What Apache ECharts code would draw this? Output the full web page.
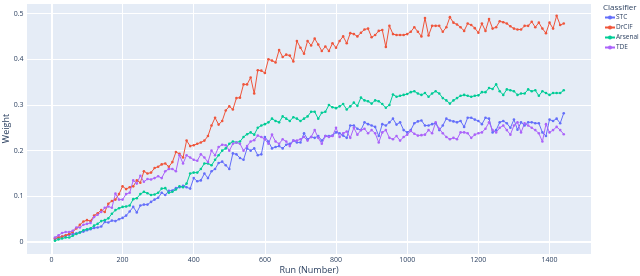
<!DOCTYPE html>
<html>
<head>
<meta charset="utf-8">
<script src="https://cdn.jsdelivr.net/npm/echarts@6/dist/echarts.min.js"></script>
<style>
html,body{margin:0;padding:0;background:#fff;}
#chart{width:640px;height:276px;}
</style>
</head>
<body>
<div id="chart"></div>
<script>
const runs = [
  10,20,30,40,50,60,70,80,90,100,
  110,120,130,140,150,160,170,180,190,200,
  210,220,230,240,250,260,270,280,290,300,
  310,320,330,340,350,360,370,380,390,400,
  410,420,430,440,450,460,470,480,490,500,
  510,520,530,540,550,560,570,580,590,600,
  610,620,630,640,650,660,670,680,690,700,
  710,720,730,740,750,760,770,780,790,800,
  810,820,830,840,850,860,870,880,890,900,
  910,920,930,940,950,960,970,980,990,1000,
  1010,1020,1030,1040,1050,1060,1070,1080,1090,1100,
  1110,1120,1130,1140,1150,1160,1170,1180,1190,1200,
  1210,1220,1230,1240,1250,1260,1270,1280,1290,1300,
  1310,1320,1330,1340,1350,1360,1370,1380,1390,1400,
  1410,1420,1430,1440
];
const stc = [
  0.007,0.010,0.012,0.014,0.016,0.018,0.019,0.021,0.023,0.026,
  0.028,0.031,0.032,0.034,0.044,0.043,0.047,0.046,0.050,0.053,
  0.058,0.067,0.077,0.065,0.080,0.082,0.082,0.088,0.093,0.097,
  0.108,0.103,0.112,0.113,0.118,0.120,0.123,0.120,0.117,0.140,
  0.133,0.135,0.150,0.140,0.155,0.160,0.173,0.176,0.168,0.160,
  0.194,0.192,0.184,0.180,0.205,0.200,0.205,0.190,0.192,0.230,
  0.220,0.205,0.208,0.210,0.205,0.213,0.215,0.222,0.218,0.218,
  0.238,0.225,0.230,0.228,0.232,0.222,0.232,0.232,0.233,0.240,
  0.238,0.233,0.228,0.255,0.255,0.248,0.245,0.262,0.258,0.255,
  0.252,0.232,0.258,0.255,0.262,0.270,0.257,0.262,0.245,0.240,
  0.245,0.260,0.264,0.266,0.255,0.255,0.258,0.260,0.245,0.255,
  0.270,0.266,0.264,0.262,0.265,0.252,0.272,0.272,0.268,0.265,
  0.258,0.272,0.270,0.240,0.245,0.262,0.265,0.260,0.250,0.268,
  0.246,0.262,0.255,0.262,0.262,0.260,0.260,0.240,0.232,0.268,
  0.265,0.270,0.260,0.282
];
const drcif = [
  0.008,0.010,0.012,0.015,0.018,0.022,0.030,0.038,0.045,0.048,
  0.046,0.058,0.063,0.070,0.066,0.084,0.090,0.093,0.105,0.122,
  0.116,0.120,0.122,0.135,0.130,0.155,0.150,0.152,0.162,0.165,
  0.170,0.172,0.165,0.175,0.197,0.193,0.185,0.222,0.210,0.212,
  0.215,0.218,0.222,0.232,0.255,0.272,0.257,0.265,0.288,0.297,
  0.290,0.315,0.316,0.345,0.345,0.360,0.325,0.376,0.375,0.370,
  0.400,0.397,0.393,0.420,0.405,0.410,0.408,0.395,0.440,0.425,
  0.412,0.440,0.430,0.445,0.432,0.418,0.428,0.418,0.435,0.425,
  0.440,0.450,0.435,0.457,0.455,0.450,0.458,0.465,0.467,0.448,
  0.453,0.462,0.464,0.427,0.473,0.455,0.453,0.453,0.453,0.455,
  0.460,0.470,0.460,0.450,0.490,0.452,0.473,0.473,0.473,0.460,
  0.470,0.492,0.480,0.476,0.470,0.462,0.478,0.475,0.468,0.458,
  0.478,0.462,0.488,0.467,0.470,0.483,0.481,0.478,0.472,0.467,
  0.465,0.465,0.473,0.473,0.482,0.470,0.480,0.467,0.457,0.480,
  0.467,0.495,0.475,0.478
];
const arsenal = [
  0.003,0.006,0.008,0.010,0.010,0.014,0.018,0.021,0.026,0.028,
  0.030,0.036,0.040,0.046,0.048,0.052,0.062,0.070,0.074,0.077,
  0.078,0.080,0.094,0.096,0.105,0.110,0.107,0.103,0.104,0.108,
  0.117,0.118,0.108,0.110,0.115,0.122,0.120,0.128,0.150,0.152,
  0.152,0.160,0.172,0.172,0.168,0.180,0.190,0.200,0.205,0.215,
  0.220,0.218,0.220,0.230,0.236,0.240,0.235,0.250,0.255,0.258,
  0.262,0.270,0.265,0.262,0.275,0.270,0.265,0.273,0.270,0.265,
  0.270,0.275,0.285,0.285,0.270,0.283,0.285,0.300,0.295,0.293,
  0.297,0.302,0.290,0.297,0.305,0.298,0.316,0.310,0.308,0.303,
  0.310,0.308,0.302,0.294,0.300,0.323,0.318,0.320,0.322,0.324,
  0.328,0.330,0.325,0.322,0.326,0.318,0.325,0.330,0.325,0.315,
  0.310,0.303,0.310,0.315,0.320,0.322,0.320,0.318,0.320,0.321,
  0.328,0.328,0.337,0.335,0.345,0.330,0.322,0.334,0.332,0.330,
  0.322,0.325,0.325,0.334,0.330,0.332,0.320,0.330,0.326,0.322,
  0.326,0.326,0.326,0.332
];
const tde = [
  0.010,0.015,0.020,0.022,0.022,0.025,0.032,0.032,0.038,0.040,
  0.042,0.055,0.060,0.066,0.075,0.078,0.075,0.106,0.093,0.093,
  0.105,0.108,0.135,0.128,0.145,0.132,0.138,0.137,0.140,0.144,
  0.140,0.155,0.160,0.160,0.155,0.190,0.172,0.190,0.185,0.180,
  0.178,0.192,0.185,0.175,0.200,0.190,0.208,0.213,0.212,0.200,
  0.215,0.218,0.215,0.200,0.210,0.220,0.223,0.233,0.230,0.225,
  0.215,0.235,0.220,0.215,0.225,0.220,0.210,0.222,0.222,0.225,
  0.230,0.222,0.230,0.245,0.228,0.215,0.232,0.230,0.232,0.250,
  0.230,0.238,0.242,0.228,0.250,0.235,0.245,0.248,0.238,0.245,
  0.238,0.218,0.240,0.245,0.228,0.225,0.232,0.222,0.230,0.235,
  0.243,0.237,0.233,0.234,0.235,0.245,0.238,0.262,0.248,0.238,
  0.230,0.225,0.228,0.225,0.240,0.240,0.238,0.228,0.235,0.238,
  0.240,0.248,0.262,0.245,0.240,0.250,0.255,0.245,0.235,0.255,
  0.262,0.240,0.260,0.255,0.250,0.245,0.238,0.220,0.258,0.240,
  0.245,0.252,0.245,0.236
];
const seriesNames = ['STC','DrCIF','Arsenal','TDE'];
const seriesValues = [stc, drcif, arsenal, tde];
const seriesColors = ['#636efa','#EF553B','#00cc96','#ab63fa'];
const legendTitle = 'Classifier';
const xTitle = 'Run (Number)';
const yTitle = 'Weight';

const FONT = '"Open Sans", "Liberation Sans", sans-serif';
const TXT = '#2a3f5f';

const chart = echarts.init(document.getElementById('chart'), null, {renderer: 'canvas'});

const series = seriesNames.map((name, k) => ({
  name: name,
  type: 'line',
  data: runs.map((r, i) => [r, seriesValues[k][i]]),
  symbol: 'circle',
  symbolSize: 2.6,
  showSymbol: true,
  itemStyle: {color: seriesColors[k]},
  lineStyle: {width: 1, color: seriesColors[k]},
  emphasis: {disabled: true},
  animation: false,
  z: 3
}));
series[0].markLine = {
  silent: true,
  symbol: 'none',
  label: {show: false},
  lineStyle: {color: '#ffffff', width: 2, type: 'solid'},
  data: [{yAxis: 0}, {xAxis: 0}],
  z: 1,
  animation: false
};

chart.setOption({
  animation: false,
  backgroundColor: '#ffffff',
  textStyle: {fontFamily: FONT},
  title: {
    text: legendTitle,
    left: 603,
    top: 4,
    padding: 0,
    textStyle: {fontSize: 8, fontWeight: 'normal', color: TXT, fontFamily: FONT}
  },
  legend: {
    orient: 'vertical',
    left: 604,
    top: 14,
    itemWidth: 10,
    itemHeight: 5,
    itemGap: 3,
    padding: 0,
    data: seriesNames,
    textStyle: {fontSize: 6.5, color: TXT, fontFamily: FONT, padding: [0,0,0,-4]}
  },
  grid: {
    left: 26.5,
    right: 48.5,
    top: 3,
    bottom: 22,
    show: true,
    backgroundColor: '#E5ECF6',
    borderWidth: 0,
    containLabel: false,
    outerBoundsMode: 'none'
  },
  xAxis: {
    type: 'value',
    min: -70,
    max: 1518,
    splitNumber: 8,
    minInterval: 200,
    maxInterval: 200,
    name: xTitle,
    nameLocation: 'middle',
    nameGap: 11.5,
    nameMoveOverlap: false,
    nameTextStyle: {fontSize: 9, color: TXT, fontFamily: FONT},
    axisLine: {show: false},
    axisTick: {show: false},
    axisLabel: {fontSize: 7, color: TXT, margin: 2, showMinLabel: false, showMaxLabel: false, fontFamily: FONT,
      formatter: v => String(v)},
    splitLine: {show: true, lineStyle: {color: '#ffffff', width: 1}}
  },
  yAxis: {
    type: 'value',
    min: -0.026,
    max: 0.523,
    splitNumber: 5,
    minInterval: 0.1,
    maxInterval: 0.1,
    name: yTitle,
    nameLocation: 'middle',
    nameGap: 16,
    nameRotate: 90,
    nameMoveOverlap: false,
    nameTextStyle: {fontSize: 9, color: TXT, fontFamily: FONT},
    axisLine: {show: false},
    axisTick: {show: false},
    axisLabel: {fontSize: 7, color: TXT, margin: 3, showMinLabel: false, showMaxLabel: false, fontFamily: FONT},
    splitLine: {show: true, lineStyle: {color: '#ffffff', width: 1}}
  },
  series: series
});
</script>
</body>
</html>
